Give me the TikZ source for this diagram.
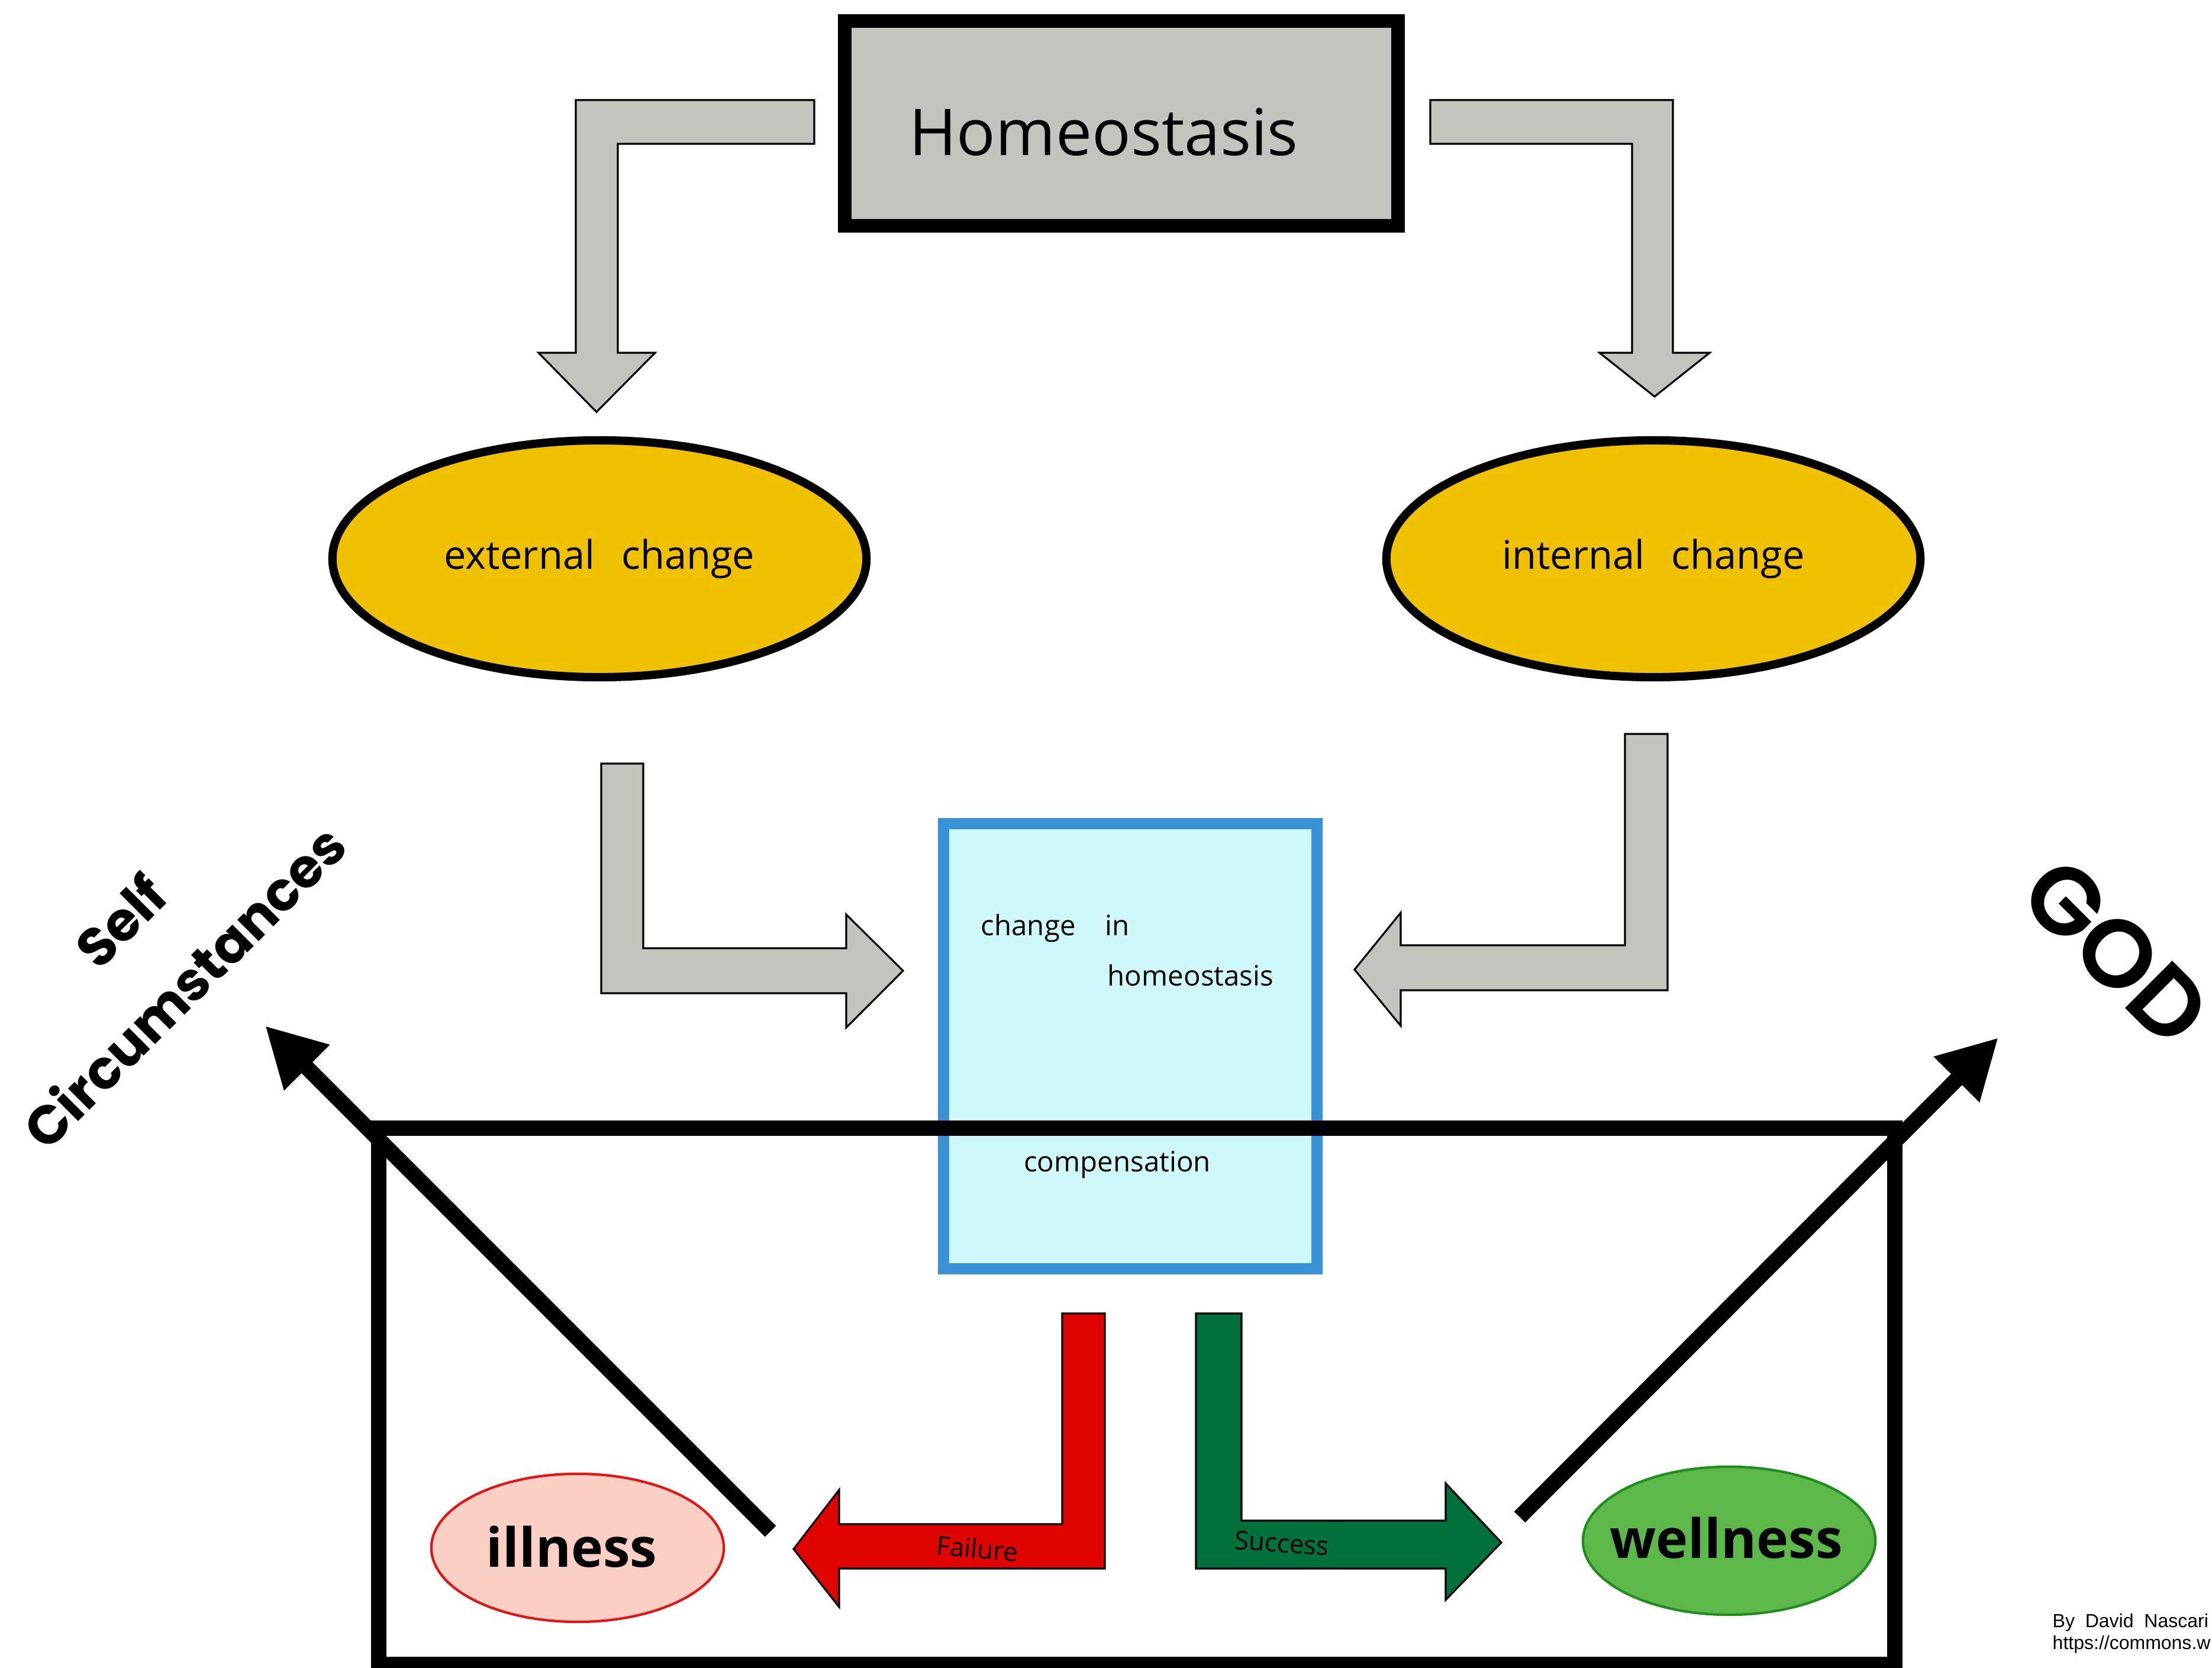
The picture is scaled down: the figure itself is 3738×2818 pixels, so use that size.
\documentclass[tikz,border=0pt]{standalone}
\usepackage{fontspec}
\newfontfamily\handfont{Open Sans}
\newfontfamily\signfont{Poppins}
\newfontfamily\godfont{Poppins SemiBold}
\newfontfamily\creditfont{Liberation Sans}
\usetikzlibrary{arrows.meta,shapes.geometric}
\definecolor{boxgray}{RGB}{196,196,190}
\definecolor{changeyellow}{RGB}{240,193,0}
\definecolor{compblue}{RGB}{58,146,214}
\definecolor{compfill}{RGB}{206,248,250}
\definecolor{failred}{RGB}{224,4,0}
\definecolor{succgreen}{RGB}{0,112,60}
\definecolor{illfill}{RGB}{251,208,196}
\definecolor{illline}{RGB}{226,20,20}
\definecolor{wellfill}{RGB}{92,184,72}
\definecolor{wellline}{RGB}{30,140,30}
\tikzstyle{block arrow} = [draw=black,line width=0.9pt,line join=miter]
\tikzstyle{gray arrow} = [block arrow,fill=boxgray]
\tikzstyle{change} = [ellipse,draw=black,fill=changeyellow,line width=4pt,minimum width=9.02cm,minimum height=4cm,inner sep=0pt,font=\handfont\fontsize{19}{22}\selectfont]
\tikzstyle{outcome} = [ellipse,line width=1.2pt,minimum width=4.94cm,minimum height=2.5cm,inner sep=0pt]
\tikzstyle{outcome text} = [font=\handfont\bfseries\fontsize{26}{30}\selectfont,inner sep=0pt]
\tikzstyle{hand} = [font=\handfont\fontsize{13.5}{16}\selectfont,inner sep=0pt]
\tikzstyle{ray} = [line width=7.5pt]
\tikzstyle{ray>} = [ray,-{Triangle[length=1.0cm,width=1.02cm]}]
\tikzstyle{sign} = [font=\signfont\bfseries\fontsize{26}{30}\selectfont,inner sep=0pt]
\tikzstyle{credit} = [font=\creditfont\fontsize{9.1}{11}\selectfont,inner sep=0pt,anchor=base west]

\begin{document}
\begin{tikzpicture}[x=0.01cm,y=-0.01cm]
        \useasboundingbox (0,0) rectangle (3738,2818);
        % top box
        \node[draw=black,fill=boxgray,line width=6.5pt,minimum width=9.35cm,minimum height=3.46cm,inner sep=0pt] (homeo) at (1895,208.5) {};
        \node[font=\handfont\fontsize{31}{34}\selectfont,anchor=base] (homeotext) at (1865,262) {Homeostasis};
        % arrows from the top box
        \draw[gray arrow] (1376,169) -- (973,169) -- (973,596) -- (910,596) -- (1008,696) -- (1107,596) -- (1044,596) -- (1044,243) -- (1376,243) -- cycle;
        \draw[gray arrow] (2417,169) -- (2827,169) -- (2827,596) -- (2889,596) -- (2796,670) -- (2703,596) -- (2758,596) -- (2758,243) -- (2417,243) -- cycle;
        % changes
        \node[change] (ext) at (1013,944) {external\hspace{0.45cm}change};
        \node[change] (int) at (2794,944) {internal\hspace{0.45cm}change};
        % arrows into the middle box
        \draw[gray arrow] (1016,1290) -- (1087,1290) -- (1087,1602) -- (1430,1602) -- (1430,1545) -- (1526,1640) -- (1430,1736) -- (1430,1678) -- (1016,1678) -- cycle;
        \draw[gray arrow] (2818,1240) -- (2746,1240) -- (2746,1597) -- (2367,1597) -- (2367,1542) -- (2289,1638) -- (2367,1733) -- (2367,1673) -- (2818,1673) -- cycle;
        % middle box
        \node[draw=compblue,fill=compfill,line width=5.4pt,minimum width=6.31cm,minimum height=7.52cm,inner sep=0pt] (comp) at (1910,1767.5) {};
        \node[hand,anchor=west] (chgin) at (1657,1568) {change\hspace{0.5cm}in};
        \node[hand,anchor=west] (chghomeo) at (1871,1648) {homeostasis};
        \node[hand] (compens) at (1888,1968) {compensation};
        % outer frame
        \draw[line width=7.4pt] (640,1905.5) rectangle (3202,2812);
        % failure and success
        \draw[block arrow,fill=failred] (1795,2219) -- (1867,2219) -- (1867,2650) -- (1418,2650) -- (1418,2715) -- (1341,2617) -- (1418,2517) -- (1418,2575) -- (1795,2575) -- cycle;
        \draw[block arrow,fill=succgreen] (2021,2219) -- (2098,2219) -- (2098,2569) -- (2443,2569) -- (2443,2506) -- (2537,2606) -- (2443,2703) -- (2443,2650) -- (2021,2650) -- cycle;
        \node[font=\handfont\fontsize{12.5}{14}\selectfont,rotate=-5] (fail) at (1652,2616) {Failure};
        \node[font=\handfont\fontsize{12.5}{14}\selectfont,rotate=-4] (succ) at (2166,2607) {Success};
        % outcomes
        \node[outcome,draw=illline,fill=illfill] (ill) at (976,2615) {};
        \node[outcome text] (illtext) at (966,2613) {illness};
        \node[outcome,draw=wellline,fill=wellfill] (well) at (2922,2603) {};
        \node[outcome text] (welltext) at (2917,2598) {wellness};
        % diagonal arrows
        \coordinate (illstart) at (1302,2587);
        \coordinate (selftip) at (448,1733);
        \coordinate (wellstart) at (2568,2563);
        \coordinate (godtip) at (3377,1753);
        \draw[ray>] (illstart) -- (selftip);
        \draw[ray>] (wellstart) -- (godtip);
        % side words
        \node[sign,rotate=45] (self) at (203,1555) {Self};
        \node[sign,rotate=45] (circ) at (310,1666) {Circumstances};
        \node[font=\godfont\fontsize{46}{50}\selectfont,inner sep=0pt,rotate=-45] (god) at (3576,1608) {GOD};
        % credit
        \node[credit] (by) at (3468,2749) {By~~David~~Nascari};
        \node[credit] (url) at (3468,2786) {https://commons.w};
\end{tikzpicture}
\end{document}
